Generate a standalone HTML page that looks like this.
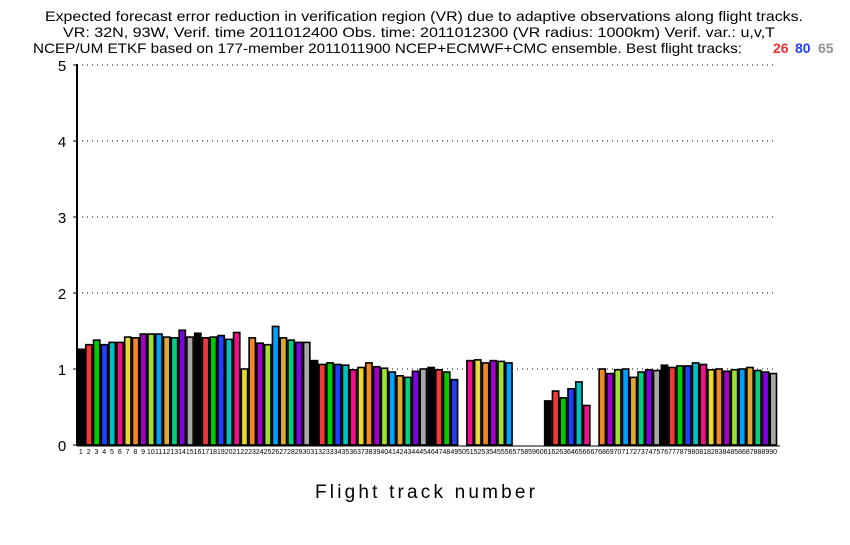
<!DOCTYPE html>
<html><head><meta charset="utf-8"><style>
body{margin:0;background:#fff;}
svg text{font-family:"Liberation Sans",sans-serif;}
</style></head><body>
<svg id="chart" width="850" height="540" xmlns="http://www.w3.org/2000/svg">
<g font-size="14" fill="#000">
<text x="45" y="21" textLength="758" lengthAdjust="spacingAndGlyphs">Expected forecast error reduction in verification region (VR) due to adaptive observations along flight tracks.</text>
<text x="63" y="37" textLength="712" lengthAdjust="spacingAndGlyphs">VR: 32N, 93W, Verif. time 2011012400 Obs. time: 2011012300 (VR radius: 1000km)  Verif. var.: u,v,T</text>
<text x="33" y="53" textLength="709" lengthAdjust="spacingAndGlyphs">NCEP/UM ETKF based on 177-member 2011011900 NCEP+ECMWF+CMC ensemble. Best flight tracks:</text>
</g>
<text x="773" y="53" font-size="14" font-weight="bold" fill="#f03030">26</text>
<text x="795" y="53" font-size="14" font-weight="bold" fill="#2040f0">80</text>
<text x="818" y="53" font-size="14" font-weight="bold" fill="#909090">65</text>
<g id="grid"></g>
<g id="bars"></g>
<g id="xlabels"></g>
<line x1="77" y1="64" x2="77" y2="446" stroke="#000" stroke-width="2"/>
<line x1="77" y1="446" x2="780" y2="446" stroke="#000" stroke-width="1"/>
<text x="315" y="498" font-size="19" textLength="220" lengthAdjust="spacing">Flight track number</text>
</svg>
<script>
const values = [1.26,1.32,1.38,1.32,1.35,1.35,1.42,1.41,1.46,1.46,1.46,1.42,1.41,1.51,1.42,1.47,1.41,1.42,1.44,1.39,1.48,1.00,1.41,1.34,1.32,1.56,1.41,1.38,1.35,1.35,
1.11,1.06,1.08,1.06,1.05,0.99,1.02,1.08,1.03,1.01,0.96,0.91,0.89,0.97,1.00,1.02,0.99,0.96,0.86,0,
1.11,1.12,1.08,1.11,1.10,1.08,0,0,0,0,0.58,0.71,0.62,0.74,0.83,0.52,0,1.00,0.94,0.99,
1.00,0.89,0.96,0.99,0.98,1.05,1.02,1.04,1.04,1.08,1.06,0.99,1.00,0.97,0.99,1.00,1.02,0.98,0.96,0.94];
const yTicks = [0,1,2,3,4,5];
const colors = ['#000000','#f03a3a','#00cc00','#2040ff','#00c0c0','#f0108a','#e8d830','#f08828','#a000c8','#a0e030','#00a0ff','#e0a830','#00d080','#8000e0','#a8a8a8'];
const X0=77, X1=777, Y0=445, PX=76;
const n = values.length, bw=(X1-X0)/n;
const xs = i => X0 + i*bw;
const ys = v => Y0 - v*PX;
const NS='http://www.w3.org/2000/svg';
const grid=document.getElementById('grid'), bars=document.getElementById('bars'), xl=document.getElementById('xlabels');
yTicks.forEach(t=>{
  const y=ys(t);
  if(t>0){
    const l=document.createElementNS(NS,'line');
    
    
    l.setAttribute('x1',X0);l.setAttribute('x2',776);l.setAttribute('y1',y);l.setAttribute('y2',y);
    l.setAttribute('stroke','#000');l.setAttribute('stroke-dasharray','1,4');
    grid.appendChild(l);
  }
  const tk=document.createElementNS(NS,'line');
  
  
  tk.setAttribute('x1',X0-4);tk.setAttribute('x2',X0);tk.setAttribute('y1',y);tk.setAttribute('y2',y);tk.setAttribute('stroke','#000');
  grid.appendChild(tk);
  const tx=document.createElementNS(NS,'text');
  
  
  tx.setAttribute('x',X0-15);tx.setAttribute('y',y+6);tx.setAttribute('font-size','15');tx.setAttribute('text-anchor','middle');
  tx.textContent=t;
  grid.appendChild(tx);
});
values.forEach((v,i)=>{
  if(v>0){
    const r=document.createElementNS(NS,'rect');
    
    
    r.setAttribute('x',xs(i)+1);r.setAttribute('y',ys(v));
    r.setAttribute('width',bw-1.5);r.setAttribute('height',Y0-ys(v));
    r.setAttribute('fill',colors[i%15]);r.setAttribute('stroke','#000');r.setAttribute('stroke-width','1.6');
    bars.appendChild(r);
  }
  const t=document.createElementNS(NS,'text');
  
  
  t.setAttribute('x',xs(i)+bw/2);t.setAttribute('y',454);t.setAttribute('font-size','7');t.setAttribute('text-anchor','middle');
  t.textContent=i+1;
  xl.appendChild(t);
});
</script>
</body></html>
